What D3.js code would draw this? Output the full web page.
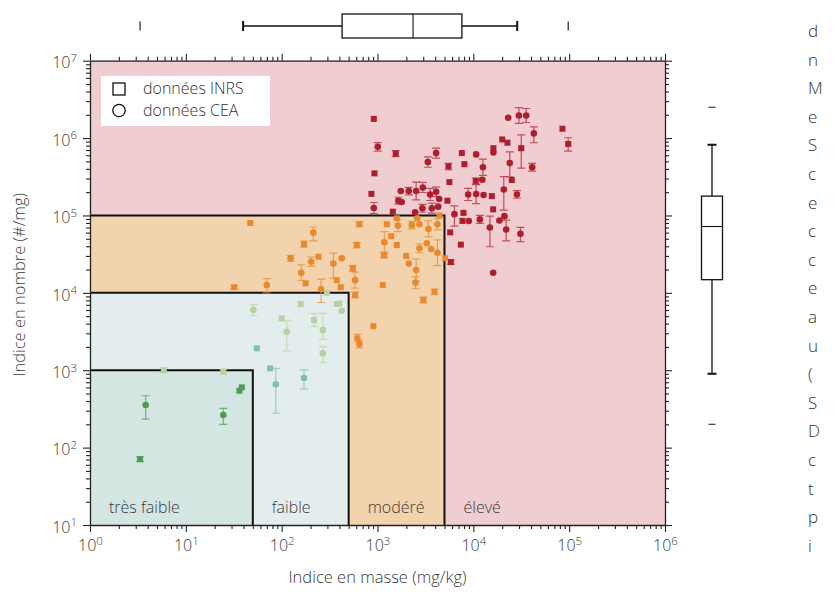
<!DOCTYPE html>
<html><head><meta charset="utf-8">
<script src="https://cdn.jsdelivr.net/npm/d3@7/dist/d3.min.js"></script>
<style>
body{margin:0;background:#fff;overflow:hidden}
svg{display:block;font-family:"Open Sans","Noto Sans",sans-serif}
text{font-weight:300}
</style></head><body>
<svg id="c" width="840" height="595"></svg>
<script>
// ---------------- data ----------------
const xDomain = [1, 1e6];
const yDomain = [10, 1e7];
const xMajor = [1, 10, 100, 1e3, 1e4, 1e5, 1e6];
const yMajor = [10, 100, 1e3, 1e4, 1e5, 1e6, 1e7];
const zoneNames = ["très faible", "faible", "modéré", "élevé"];
const zoneMassMax = [50, 500, 5000, 1e6];
const zoneNumberMax = [1e3, 1e4, 1e5, 1e7];
const zoneMassMin = [1, 50, 500, 5000];
const zoneFill = ["#d3e6e2", "#e4edee", "#f2d3ad", "#efcdd0"];

// [mass mg/kg, number #/mg, low, high, shape] shape: s = INRS square, c = CEA circle
const eleve = [
[915,1.77e6,null,null,'s'],[1007,7.7e5,6.8e5,8.75e5,'c'],[1550,6.3e5,5.76e5,6.9e5,'s'],
[929,3.5e5,null,null,'s'],[3350,4.9e5,4.2e5,5.7e5,'c'],[4090,6.4e5,5.5e5,7.4e5,'c'],
[5500,4.3e5,3.9e5,4.7e5,'s'],[7590,6.4e5,null,null,'s'],[8070,4.6e5,null,null,'s'],
[10700,6.15e5,null,null,'c'],[16200,7.4e5,null,null,'s'],[16200,6.5e5,null,null,'c'],
[12600,4.2e5,3.3e5,5.35e5,'c'],[5630,2.7e5,null,null,'s'],[864,1.9e5,null,null,'s'],
[915,1.25e5,1.06e5,1.47e5,'c'],[1750,2.07e5,null,null,'c'],[2120,2.07e5,1.85e5,2.3e5,'c'],
[2530,2.07e5,1.59e5,2.7e5,'c'],[2970,2.3e5,1.98e5,2.67e5,'c'],[1650,1.55e5,1.4e5,1.72e5,'c'],
[1790,1.49e5,null,null,'c'],[3540,1.87e5,1.56e5,2.24e5,'c'],[4090,2.02e5,1.75e5,2.33e5,'c'],
[4400,1.63e5,null,null,'c'],[3690,1.24e5,1.07e5,1.44e5,'c'],[4300,1.3e5,null,null,'c'],
[2470,1.1e5,null,null,'c'],[2940,1.24e5,1.1e5,1.39e5,'c'],[1445,1.12e5,null,null,'s'],
[5370,1.55e5,null,null,'s'],[6350,1.04e5,7.3e4,1.33e5,'c'],[7890,1.08e5,null,null,'s'],
[7700,8.5e4,null,null,'s'],[8970,8.5e4,null,null,'c'],[11700,8.9e4,7.9e4,1.0e5,'c'],
[8830,1.87e5,1.56e5,2.24e5,'c'],[10700,1.89e5,1.42e5,2.5e5,'c'],[12800,1.84e5,null,null,'c'],
[15600,1.78e5,null,null,'s'],[12400,2.9e5,null,null,'c'],[10600,2.8e5,2.55e5,3.05e5,'s'],
[14900,7.0e4,3.94e4,9.8e4,'c'],[16100,1.2e5,null,null,'s'],[20800,2.17e5,1.17e5,3.17e5,'c'],
[21100,9.8e4,null,null,'c'],[18700,8.6e4,null,null,'c'],[22000,6.6e4,4.7e4,8.7e4,'c'],
[24000,4.75e5,3.16e5,6.65e5,'c'],[25200,2.87e5,null,null,'s'],[31600,7.4e5,4.1e5,1.1e6,'s'],
[28500,1.87e5,1.67e5,2.1e5,'c'],[31000,5.8e4,4.6e4,7.0e4,'c'],[20000,9.6e5,null,null,'s'],
[22700,8.7e5,null,null,'s'],[23100,1.83e6,null,null,'c'],[29900,1.96e6,1.55e6,2.48e6,'c'],
[35600,1.96e6,1.59e6,2.41e6,'c'],[42800,1.15e6,8.7e5,1.4e6,'c'],[41100,4.2e5,3.75e5,4.7e5,'c'],
[85100,1.32e6,null,null,'s'],[97700,8.4e5,6.8e5,1.01e6,'s'],[5730,6.05e4,null,null,'s'],
[7410,4.2e4,null,null,'s'],[16100,1.82e4,null,null,'c'],[5820,2.5e4,2.35e4,2.65e4,'s']
];
const modere = [
[647,7.7e4,7.15e4,8.3e4,'s'],[608,4.15e4,3.8e4,4.5e4,'s'],[1250,7.7e4,null,null,'s'],
[1630,7.4e4,6.2e4,8.8e4,'c'],[1180,4.5e4,3.25e4,6.2e4,'c'],[1390,5.4e4,null,null,'s'],
[1590,4.15e4,null,null,'s'],[1170,3.08e4,2.83e4,3.35e4,'s'],[2280,7.5e4,6.7e4,8.4e4,'c'],
[2740,7.7e4,null,null,'c'],[2600,9.2e4,null,null,'c'],[3400,6.7e4,5.3e4,8.5e4,'c'],
[4220,7.7e4,6.5e4,9.1e4,'c'],[2740,3.76e4,3.3e4,4.3e4,'c'],[3270,4.37e4,null,null,'c'],
[3630,3.68e4,null,null,'c'],[4220,3.3e4,2.25e4,4.85e4,'c'],[1990,3.0e4,null,null,'s'],
[2120,2.4e4,null,null,'c'],[2530,1.97e4,1.42e4,2.73e4,'c'],[2490,1.35e4,1.13e4,1.61e4,'c'],
[3010,8070,7400,8800,'s'],[3930,1.03e4,9450,1.12e4,'s'],[5080,2.8e4,null,null,'s'],
[1135,1.26e4,null,null,'s'],[584,1.46e4,1.15e4,1.85e4,'c'],[584,9370,8600,1.02e4,'s'],
[552,2.07e4,1.9e4,2.26e4,'s'],[347,2.4e4,1.54e4,3.26e4,'c'],[424,2.8e4,null,null,'c'],
[376,1.46e4,null,null,'s'],[414,1.18e4,null,null,'s'],[906,3720,null,null,'s'],
[617,2580,2300,2900,'c'],[647,2180,1950,2450,'c'],[214,6.0e4,4.7e4,7.1e4,'c'],
[171,4.27e4,3.9e4,4.65e4,'s'],[124,2.8e4,2.55e4,3.05e4,'c'],[203,2.52e4,2.2e4,2.9e4,'c'],
[242,2.93e4,null,null,'s'],[160,1.82e4,1.45e4,2.3e4,'c'],[178,1.33e4,null,null,'s'],
[69.9,1.26e4,1.0e4,1.53e4,'c'],[31.9,1.18e4,1.12e4,1.25e4,'s'],[258,1.11e4,7.5e3,1.5e4,'c'],
[47,8e4,null,null,'s'],[4450,1.0e5,null,null,'s'],[1590,9.2e4,null,null,'s']
];
const faibleClair = [
[50.7,6000,5100,7000,'c'],[100,4680,null,null,'s'],[113,3140,1780,4450,'c'],
[158,7160,null,null,'s'],[218,4450,3650,5400,'s'],[269,3300,2500,5430,'c'],
[269,1650,1250,2000,'c'],[296,1.0e4,null,null,'s'],[376,7160,null,null,'s'],
[424,5870,null,null,'c'],[400,7300,null,null,'s'],[5.9,1000,930,1075,'s'],[24.6,957,890,1030,'s']
];
const faibleTeal = [
[55,1920,null,null,'s'],[75.7,1060,null,null,'s'],[86.8,658,278,1060,'c'],[171,792,574,1010,'c']
];
const tresFaible = [
[3.81,355,234,468,'c'],[24.6,264,200,322,'c'],[3.33,71,66,76,'s'],
[36.2,543,null,null,'s'],[38.4,601,null,null,'s']
];
const seriesColors = {eleve:"#ad1f2e", modere:"#e8892d", faibleClair:"#b7d2a2", faibleTeal:"#80bfb7", tresFaible:"#4f9b50"};
// boxplot stats: [low outlier, low whisker, Q1, median, Q3, high whisker, high outlier]
const massBox = [3.33, 39.6, 427, 2350, 7600, 28700, 97700];
const numberBox = [200, 900, 1.48e4, 7.2e4, 1.78e5, 8.2e5, 2.5e6];
const legendLabels = ["données INRS", "données CEA"];
const xTitle = "Indice en masse (mg/kg)";
const yTitle = "Indice en nombre (#/mg)";
const sideLetters = ["d","n","M","e","S","c","e","c","c","e","a","u","(","S","D","c","t","p","i"];

// ---------------- drawing ----------------
const svg = d3.select("#c");
const L = 90, R = 665, T = 60.7, B = 525;
const x = d3.scaleLog().domain(xDomain).range([L, R]);
const y = d3.scaleLog().domain(yDomain).range([B, T]);
const minorOf = (dom) => {
  const out = [];
  for (let e = Math.log10(dom[0]); e < Math.log10(dom[1]); e++)
    for (let k = 2; k <= 9; k++) out.push(k * Math.pow(10, e));
  return out;
};
const TXT = "#3a3a3a";

// zones, drawn largest first
for (let i = 3; i >= 0; i--) {
  svg.append("rect").attr("x", x(1)).attr("y", y(zoneNumberMax[i]))
    .attr("width", x(zoneMassMax[i]) - x(1)).attr("height", y(10) - y(zoneNumberMax[i]))
    .attr("fill", zoneFill[i]);
}
for (let i = 0; i < 3; i++) {
  svg.append("path").attr("fill", "none").attr("stroke", "#111").attr("stroke-width", 2)
    .attr("d", `M${x(1)},${y(zoneNumberMax[i])}H${x(zoneMassMax[i])}V${y(10)}`);
}
zoneNames.forEach((n, i) => {
  svg.append("text").attr("x", x(zoneMassMin[i]) + 19).attr("y", 513)
    .attr("font-size", 16).attr("fill", TXT).text(n);
});

// points
const groups = [[eleve,"eleve"],[modere,"modere"],[faibleClair,"faibleClair"],[faibleTeal,"faibleTeal"],[tresFaible,"tresFaible"]];
const gp = svg.append("g");
groups.forEach(([arr, key]) => {
  const col = seriesColors[key];
  const g = gp.append("g");
  arr.forEach(d => {
    if (d[2] != null) {
      const xx = x(d[0]), y1 = y(d[2]), y2 = y(d[3]);
      g.append("path").attr("stroke", col).attr("stroke-opacity", 0.72).attr("stroke-width", 1.2).attr("fill", "none")
        .attr("d", `M${xx},${y1}V${y2}M${xx-4},${y1}h8M${xx-4},${y2}h8`);
    }
  });
  arr.forEach(d => {
    if (d[4] === 's') g.append("rect").attr("x", x(d[0]) - 3).attr("y", y(d[1]) - 3).attr("width", 6).attr("height", 6).attr("fill", col);
    else g.append("circle").attr("cx", x(d[0])).attr("cy", y(d[1])).attr("r", 3.3).attr("fill", col);
  });
});

// axes
function styleAxis(g) {
  g.select(".domain").attr("stroke", "#222").attr("stroke-width", 1.3);
  g.selectAll(".tick line").attr("stroke", "#222").attr("stroke-width", 1.1);
}
function supLabels(g) {
  g.selectAll(".tick text").each(function(d) {
    const t = d3.select(this); t.text(null);
    t.append("tspan").text("10");
    t.append("tspan").attr("dy", "-0.55em").attr("font-size", "11.5px").text(Math.round(Math.log10(d)));
  }).attr("font-size", 16).attr("fill", TXT).attr("font-family", "Open Sans, sans-serif");
}
const gx = svg.append("g").attr("transform", `translate(0,${B})`)
  .call(d3.axisBottom(x).tickValues(xMajor).tickSize(7).tickSizeOuter(0).tickPadding(8));
supLabels(gx); styleAxis(gx);
svg.append("g").attr("transform", `translate(0,${B})`)
  .call(d3.axisBottom(x).tickValues(minorOf(xDomain)).tickSize(4).tickFormat("")).call(g => { g.select(".domain").remove(); styleAxis(g); });
const gxt = svg.append("g").attr("transform", `translate(0,${T})`)
  .call(d3.axisTop(x).tickValues(xMajor).tickSize(7).tickSizeOuter(0).tickFormat(""));
styleAxis(gxt);
svg.append("g").attr("transform", `translate(0,${T})`)
  .call(d3.axisTop(x).tickValues(minorOf(xDomain)).tickSize(4).tickFormat("")).call(g => { g.select(".domain").remove(); styleAxis(g); });

const gy = svg.append("g").attr("transform", `translate(${L},0)`)
  .call(d3.axisLeft(y).tickValues(yMajor).tickSize(7).tickSizeOuter(0).tickPadding(6));
supLabels(gy); styleAxis(gy);
gy.selectAll(".tick text").attr("dy", "0.45em");
svg.append("g").attr("transform", `translate(${L},0)`)
  .call(d3.axisLeft(y).tickValues(minorOf(yDomain)).tickSize(4).tickFormat("")).call(g => { g.select(".domain").remove(); styleAxis(g); });
const gyr = svg.append("g").attr("transform", `translate(${R},0)`)
  .call(d3.axisRight(y).tickValues(yMajor).tickSize(7).tickSizeOuter(0).tickFormat(""));
styleAxis(gyr);
svg.append("g").attr("transform", `translate(${R},0)`)
  .call(d3.axisRight(y).tickValues(minorOf(yDomain)).tickSize(4).tickFormat("")).call(g => { g.select(".domain").remove(); styleAxis(g); });

// axis titles
svg.append("text").attr("x", (L + R) / 2).attr("y", 583).attr("text-anchor", "middle")
  .attr("font-size", 16.5).attr("fill", TXT).text(xTitle);
svg.append("text").attr("transform", `translate(25,${(T + B) / 2 - 8}) rotate(-90)`).attr("text-anchor", "middle")
  .attr("font-size", 16.5).attr("fill", TXT).text(yTitle);

// legend
const lg = svg.append("g");
lg.append("rect").attr("x", 101).attr("y", 76).attr("width", 169).attr("height", 50).attr("fill", "#fff");
lg.append("rect").attr("x", 113).attr("y", 83).attr("width", 12).attr("height", 12).attr("fill", "none").attr("stroke", "#111").attr("stroke-width", 1.3);
lg.append("circle").attr("cx", 119).attr("cy", 110.5).attr("r", 6.2).attr("fill", "none").attr("stroke", "#111").attr("stroke-width", 1.3);
legendLabels.forEach((t, i) => lg.append("text").attr("x", 143).attr("y", 94 + i * 21.5)
  .attr("font-size", 16).attr("fill", "#333").text(t));

// top boxplot (mass)
const bt = svg.append("g").attr("stroke", "#111").attr("fill", "none");
const cy0 = 26, hh = 12;
bt.append("path").attr("stroke-width", 1.3).attr("d", `M${x(massBox[1])},${cy0}H${x(massBox[2])}M${x(massBox[4])},${cy0}H${x(massBox[5])}`);
bt.append("path").attr("stroke-width", 2).attr("d", `M${x(massBox[1])},${cy0-5}V${cy0+5}M${x(massBox[5])},${cy0-5}V${cy0+5}`);
bt.append("rect").attr("x", x(massBox[2])).attr("y", cy0 - hh).attr("width", x(massBox[4]) - x(massBox[2])).attr("height", 2 * hh).attr("fill", "#fff").attr("stroke-width", 1.3);
bt.append("path").attr("stroke-width", 1.1).attr("d", `M${x(massBox[3])},${cy0-hh}V${cy0+hh}`);
bt.append("path").attr("stroke-width", 1.1).attr("d", `M${x(massBox[0])},${cy0-4.5}V${cy0+4.5}M${x(massBox[6])},${cy0-4.5}V${cy0+4.5}`);

// right boxplot (number)
const br = svg.append("g").attr("stroke", "#111").attr("fill", "none");
const cx0 = 712, hw = 10.5;
br.append("path").attr("stroke-width", 1.3).attr("d", `M${cx0},${y(numberBox[1])}V${y(numberBox[2])}M${cx0},${y(numberBox[4])}V${y(numberBox[5])}`);
br.append("path").attr("stroke-width", 2).attr("d", `M${cx0-4.5},${y(numberBox[1])}H${cx0+4.5}M${cx0-4.5},${y(numberBox[5])}H${cx0+4.5}`);
br.append("rect").attr("x", cx0 - hw).attr("y", y(numberBox[4])).attr("width", 2 * hw).attr("height", y(numberBox[2]) - y(numberBox[4])).attr("fill", "#fff").attr("stroke-width", 1.3);
br.append("path").attr("stroke-width", 1.1).attr("d", `M${cx0-hw},${y(numberBox[3])}H${cx0+hw}`);
br.append("path").attr("stroke-width", 1.1).attr("d", `M${cx0-3.5},${y(numberBox[0])}H${cx0+3.5}M${cx0-3.5},${y(numberBox[6])}H${cx0+3.5}`);

// neighbouring text column (first letters of lines)
sideLetters.forEach((c, i) => svg.append("text").attr("x", 808).attr("y", 37 + i * 28.6)
  .attr("font-size", 17).attr("fill", "#333").text(c));
</script>
</body></html>
